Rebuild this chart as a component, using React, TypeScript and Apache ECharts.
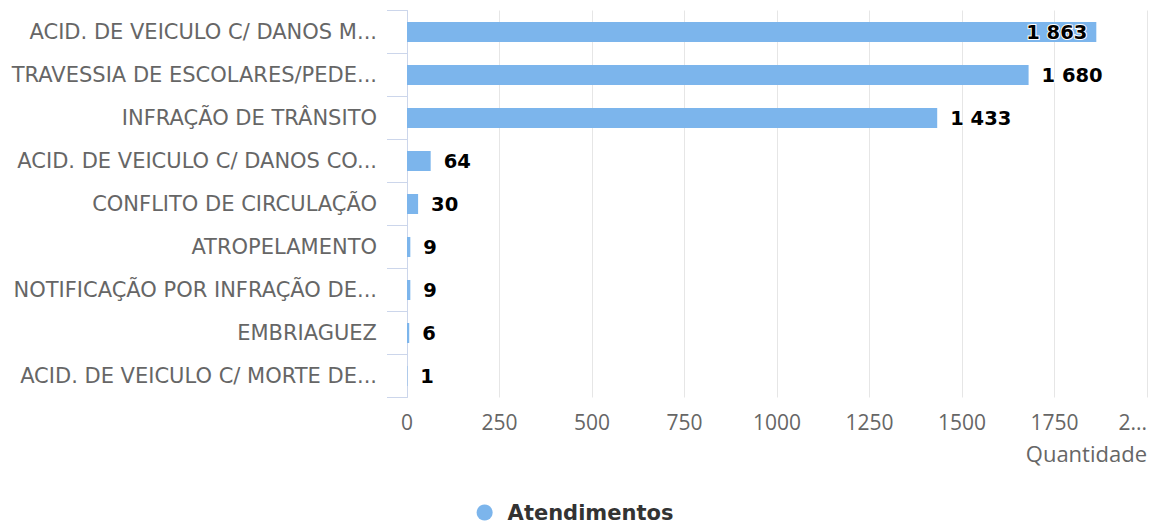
import React, { useEffect, useRef } from "react";
import * as echarts from "echarts";

const categories = [
  "ACID. DE VEICULO C/ DANOS M...",
  "TRAVESSIA DE ESCOLARES/PEDE...",
  "INFRAÇÃO DE TRÂNSITO",
  "ACID. DE VEICULO C/ DANOS CO...",
  "CONFLITO DE CIRCULAÇÃO",
  "ATROPELAMENTO",
  "NOTIFICAÇÃO POR INFRAÇÃO DE...",
  "EMBRIAGUEZ",
  "ACID. DE VEICULO C/ MORTE DE...",
];
const values = [1863, 1680, 1433, 64, 30, 9, 9, 6, 1];
const seriesName = "Atendimentos";
const axisName = "Quantidade";
const xMin = 0;
const xMax = 2000;
const xStep = 250;

const fmt = (v: number) => String(v).replace(/\B(?=(\d{3})+(?!\d))/g, " ");

export default function App() {
  const ref = useRef<HTMLDivElement>(null);
  useEffect(() => {
    if (!ref.current) return;
    document.body.style.margin = "0";
    document.body.style.overflow = "hidden";
    document.documentElement.style.overflow = "hidden";
    const chart = echarts.init(ref.current, undefined, { renderer: "svg", width: 1150, height: 524 });
    const color = "#7cb5ec";
    chart.setOption({
      animation: false,
      grid: {
        left: 407,
        right: 3,
        top: 10.5,
        bottom: 126.5,
        containLabel: false,
        outerBoundsMode: "none",
      },
      legend: {
        show: true,
        data: [seriesName],
        left: "center",
        top: 502,
        padding: 0,
        icon: "circle",
        itemWidth: 16,
        itemHeight: 16,
        textStyle: {
          fontFamily: "DejaVu Sans",
          fontWeight: "bold",
          fontSize: 21,
          color: "#333333",
          lineHeight: 21,
          padding: [0, 0, 0, 10],
        },
      },
      xAxis: {
        type: "value",
        min: xMin,
        max: xMax,
        interval: xStep,
        name: axisName,
        nameLocation: "end",
        nameGap: 0,
        nameTextStyle: {
          fontFamily: "Open Sans",
          fontSize: 22,
          color: "#666666",
          align: "right",
          verticalAlign: "top",
          padding: [44, 0, 0, 0],
        },
        axisLine: { show: false },
        axisTick: { show: false },
        splitLine: { show: true, lineStyle: { color: "#e6e6e6", width: 1 } },
        axisLabel: {
          margin: 14,
          fontFamily: "Open Sans",
          fontSize: 21,
          color: "#666666",
          alignMaxLabel: "right",
          formatter: (v: number) => (v >= 2000 ? "2..." : String(v)),
        },
      },
      yAxis: {
        type: "category",
        data: categories,
        inverse: true,
        axisLine: { show: true, lineStyle: { color: "#ccd6eb", width: 1 } },
        axisTick: { show: true, length: 20, lineStyle: { color: "#ccd6eb", width: 1 } },
        splitLine: { show: false },
        axisLabel: {
          margin: 30,
          fontFamily: "DejaVu Sans",
          fontSize: 21,
          color: "#666666",
        },
      },
      series: [
        {
          name: seriesName,
          type: "bar",
          barWidth: 20,
          itemStyle: { color },
          data: values.map((v, i) => ({
            value: v,
            label:
              i === 0
                ? { position: "insideRight", distance: 9 }
                : { position: "right", distance: 13 },
          })),
          label: {
            show: true,
            formatter: (p: any) => fmt(p.value),
            fontFamily: "DejaVu Sans",
            fontWeight: "bold",
            fontSize: 19.5,
            color: "#000000",
            textBorderColor: "#ffffff",
            textBorderWidth: 2,
          },
        },
      ],
    });
    return () => chart.dispose();
  }, []);
  return (
    <div
      ref={ref}
      style={{ position: "fixed", left: 0, top: 0, width: 1150, height: 524, background: "#fff", overflow: "hidden" }}
    />
  );
}
